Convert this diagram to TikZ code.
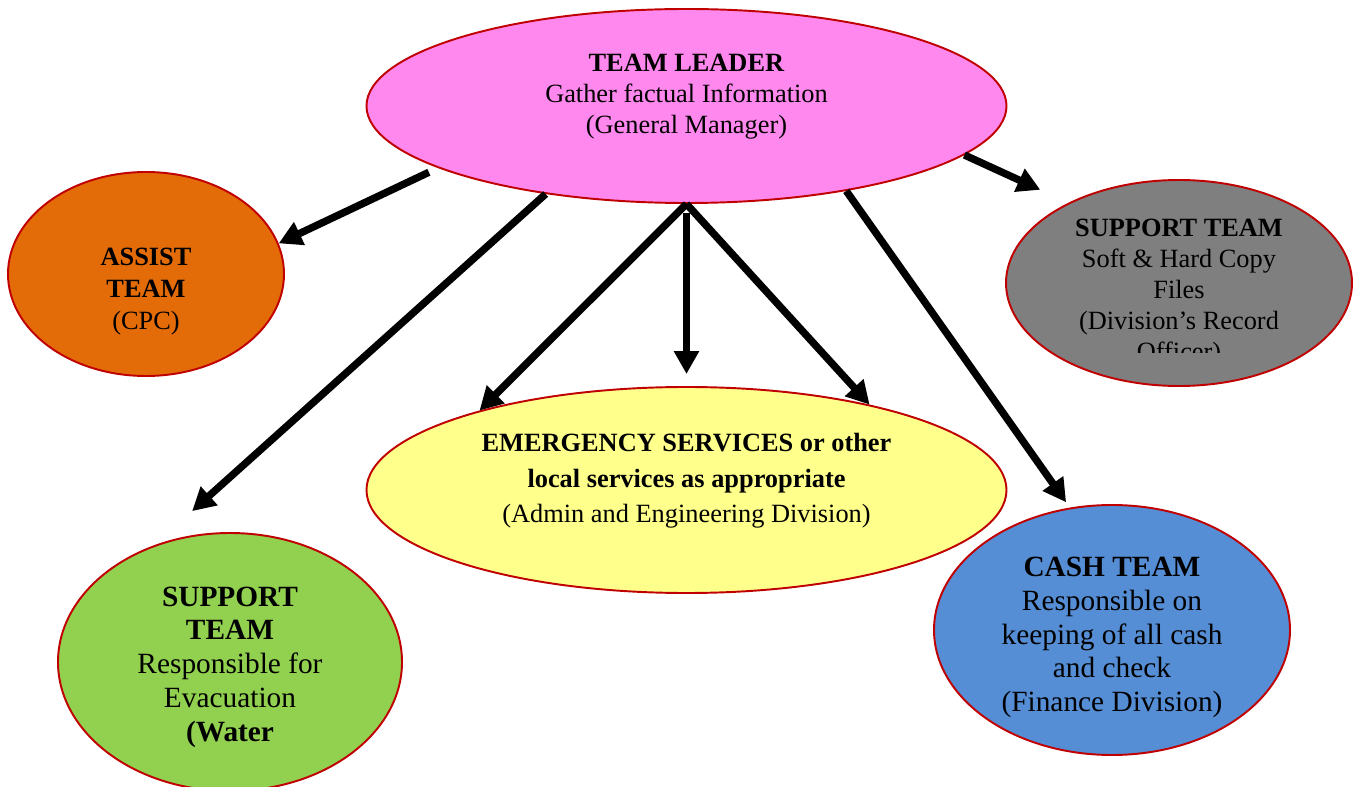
\documentclass[tikz,border=0pt]{standalone}
\usepackage{fontspec}
\setmainfont{Liberation Serif}
\usetikzlibrary{shapes.geometric,arrows.meta}
\definecolor{leaderpink}{HTML}{FF88EE}
\definecolor{assistorange}{HTML}{E36C09}
\definecolor{recordgray}{HTML}{7F7F7F}
\definecolor{emergyellow}{HTML}{FFFF8C}
\definecolor{evacgreen}{HTML}{92D050}
\definecolor{cashblue}{HTML}{558ED5}
\definecolor{bubbleline}{HTML}{C00000}

\begin{document}
\begin{tikzpicture}[
    bubble/.style={ellipse,draw=bubbleline,line width=1.1pt,inner sep=0pt},
    txt/.style={align=center,inner sep=0pt,font=\fontsize{15}{17.6}\selectfont},
    bigtxt/.style={align=center,inner sep=0pt,font=\fontsize{16.7}{19.2}\selectfont},
    arr/.style={line width=4.2pt,-{Triangle[length=0.46cm,width=0.48cm]}}
  ]
  \useasboundingbox (0,0) rectangle (27.1,-15.74);

  % Team leader on top
  \node[bubble,fill=leaderpink,minimum width=12.8cm,minimum height=3.88cm] (leader) at (13.73,-2.12) {};
  \node[txt] (leadertxt) at ([yshift=0.19cm]leader.center)
    {\textbf{TEAM LEADER}\\Gather factual Information\\(General Manager)};

  % Teams around the leader
  \node[bubble,fill=assistorange,minimum width=5.52cm,minimum height=4.08cm] (assist) at (2.92,-5.48) {};
  \node[txt,font=\fontsize{15}{18.2}\selectfont] (assisttxt) at ([yshift=-0.35cm]assist.center)
    {\textbf{ASSIST}\\\textbf{TEAM}\\(CPC)};

  \node[bubble,fill=recordgray,minimum width=6.92cm,minimum height=4.12cm] (records) at (23.58,-5.66) {};
  \begin{scope}
    \clip (records.north west) rectangle ([yshift=-1.4cm]records.east);
    \node[txt] (recordstxt) at ([yshift=-0.19cm]records.center)
      {\textbf{SUPPORT TEAM}\\Soft \& Hard Copy\\Files\\(Division’s Record\\Officer)};
  \end{scope}

  \node[bubble,fill=emergyellow,minimum width=12.8cm,minimum height=4.12cm] (emergency) at (13.73,-9.80) {};
  \node[txt,font=\fontsize{15}{20.2}\selectfont] (emergencytxt) at ([yshift=0.18cm]emergency.center)
    {\textbf{EMERGENCY SERVICES or other}\\\textbf{local services as appropriate}\\(Admin and Engineering Division)};

  \node[bubble,fill=evacgreen,minimum width=6.88cm,minimum height=5.16cm] (evac) at (4.60,-13.24) {};
  \node[bigtxt] (evactxt) at ([yshift=-0.1cm]evac.center)
    {\textbf{SUPPORT}\\\textbf{TEAM}\\Responsible for\\Evacuation\\\textbf{(Water}};

  \node[bubble,fill=cashblue,minimum width=7.12cm,minimum height=5.0cm] (cash) at (22.24,-12.60) {};
  \node[bigtxt] (cashtxt) at ([yshift=-0.15cm]cash.center)
    {\textbf{CASH TEAM}\\Responsible on\\keeping of all cash\\and check\\(Finance Division)};

  % Draw arrows from the leader
  \draw[arr,shorten <=0.2cm] (leader.194) -- (assist.13);
  \draw[arr,shorten >=1.02cm] (leader.212) -- (evac.123);
  \draw[arr] (leader.south) -- (emergency.159);
  \draw[arr,shorten <=0.18cm,shorten >=0.24cm] (leader.south) -- (emergency.north);
  \draw[arr] (leader.south) -- (emergency.25);
  \draw[arr,shorten >=0.13cm] (leader.332) -- (cash.109);
  \draw[arr,shorten >=0.62cm] (leader.350) -- (records.144);
\end{tikzpicture}
\end{document}
